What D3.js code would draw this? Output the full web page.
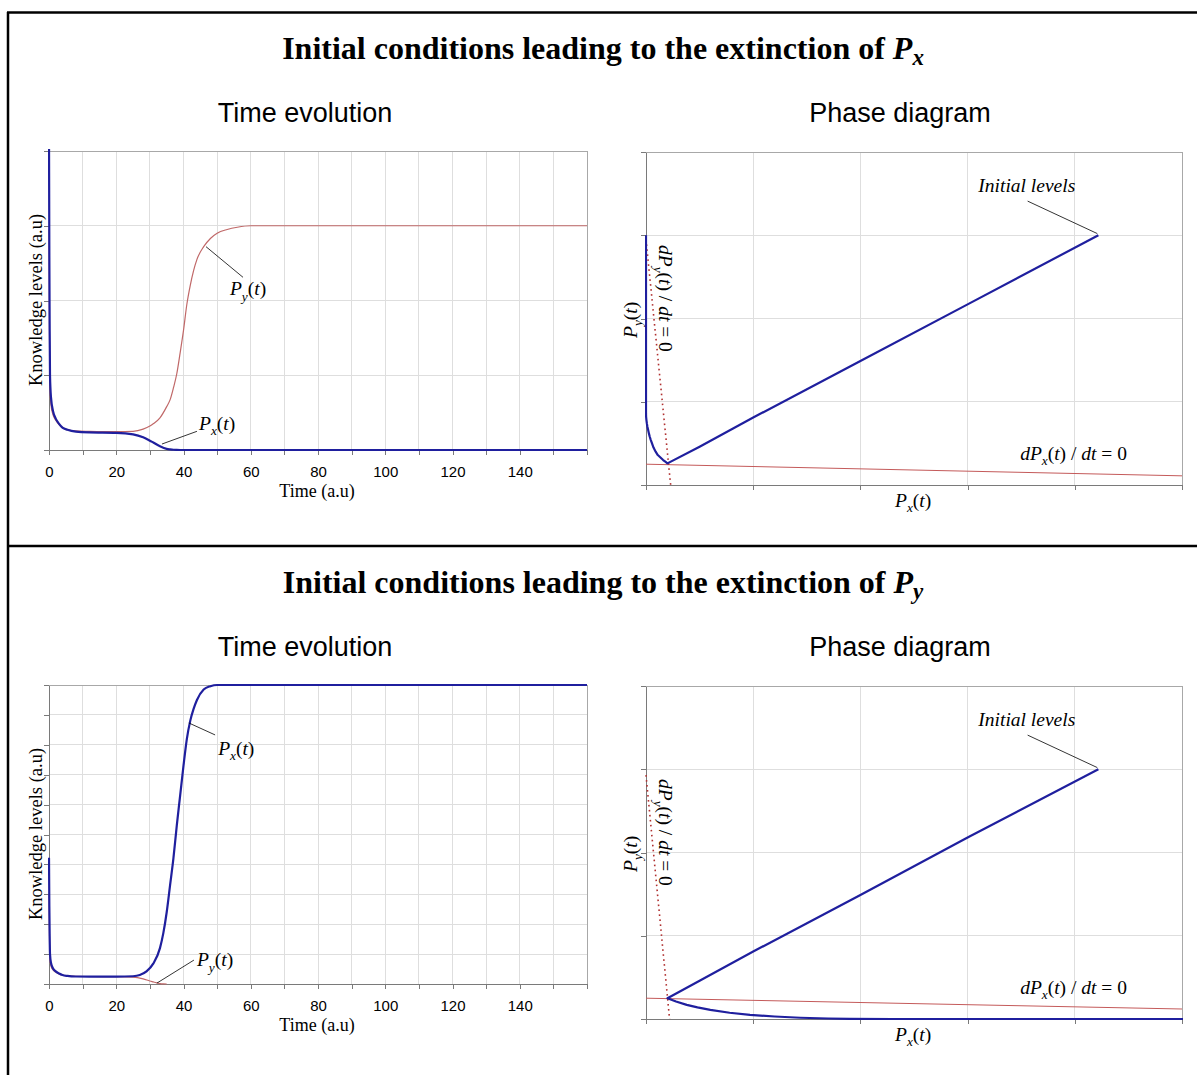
<!DOCTYPE html>
<html>
<head>
<meta charset="utf-8">
<script src="https://cdn.jsdelivr.net/npm/d3@7"></script>
<style>
  body { margin: 0; background: #fff; }
  svg text { font-family: "Liberation Serif", "Times New Roman", serif; white-space: pre; }
  .axis .tick text { font-family: "Liberation Sans", Arial, sans-serif; font-size: 15px; fill: #000; }
  .axis path, .axis line { stroke: #7a7a7a; shape-rendering: crispEdges; }
  .grid line { stroke: #dedede; shape-rendering: crispEdges; }
  .frame { stroke: #a8a8a8; shape-rendering: crispEdges; }
</style>
</head>
<body>
<script>
// ---------- data ----------
var timeTicks = d3.range(0, 161, 10);

// upper panel : extinction of Px
var evoT1  = [0,0.1,0.2,0.3,0.6,1.2,2,3,4,5.5,8,12,20,25,28,30,31,33,35,36,37,38,39,40,41,42,43,44,46,48,50,53,56,60,160];
var evoPx1 = [4.22,2.6,1.6,1.0,0.7,0.52,0.42,0.35,0.3,0.27,0.245,0.235,0.23,0.21,0.17,0.125,0.1,0.05,0.015,0.008,0.003,0.001,0,0,0,0,0,0,0,0,0,0,0,0,0];
var evoPy1 = [2.95,1.9,1.2,0.8,0.6,0.47,0.4,0.34,0.3,0.27,0.255,0.25,0.245,0.25,0.28,0.32,0.35,0.43,0.58,0.67,0.83,1.02,1.3,1.6,1.95,2.2,2.4,2.55,2.72,2.83,2.9,2.95,2.98,3.0,3.0];

// lower panel : extinction of Py
var evoT2  = [0,0.1,0.2,0.3,0.6,1.2,2,3,4,5.5,8,12,20,25,27,29,31,33,34,35,36,37,38,39,40,41,42,43,44,46,48,50,160];
var evoPx2 = [4.22,2.6,1.6,1.0,0.7,0.52,0.42,0.35,0.3,0.27,0.25,0.245,0.245,0.26,0.3,0.42,0.68,1.2,1.7,2.4,3.3,4.2,5.3,6.3,7.3,8.2,8.8,9.2,9.5,9.85,9.96,10,10];
var pyT2   = [0,0.1,0.2,0.3,0.6,1.2,2,3,4,5.5,8,12,20,25,28,30,31,32,33,34,35];
var evoPy2 = [3.0,1.9,1.2,0.8,0.6,0.47,0.4,0.34,0.3,0.27,0.255,0.25,0.245,0.23,0.17,0.1,0.07,0.04,0.015,0.003,0];

// phase trajectories (Px, Py)
var phasePx1 = [4.22,3.0,2.0,1.0,0.5,0.2,0.18,0.16,0.135,0.11,0.09,0.07,0.056,0.045,0.035,0.027,0.02,0.013,0.008,0.004,0.001,0,0];
var phasePy1 = [3.0,2.17,1.49,0.81,0.46,0.26,0.28,0.3,0.33,0.36,0.4,0.45,0.5,0.54,0.58,0.62,0.66,0.7,0.74,0.78,0.82,0.86,3.0];
var phasePx2 = [4.22,3.0,2.0,1.0,0.5,0.2,0.28,0.38,0.48,0.6,0.78,0.97,1.2,1.44,1.7,1.9,2.3,5.5];
var phasePy2 = [3.0,2.18,1.49,0.81,0.46,0.25,0.21,0.17,0.14,0.11,0.075,0.05,0.03,0.015,0.006,0.002,0,0];

// nullclines
var nullPxX = [0, 5];
var nullPxY1 = [0.25, 0.11];
var nullPxY2 = [0.25, 0.12];
var nullPyX1 = [0, 0.23], nullPyY1 = [2.95, 0];
var nullPyX2 = [0, 0.22], nullPyY2 = [2.93, 0];

var zip = function(a, b){ return a.map(function(d, i){ return [d, b[i]]; }); };

var panels = [
  { off: 0, sub: "x", yMax: 4,
    series: [
      { pts: zip(evoT1, evoPy1), color: "#c06868", w: 1.2 },
      { pts: zip(evoT1, evoPx1), color: "#1f1f9e", w: 2.2 }
    ],
    notes: [
      { name: "y", lead: [[46.7,2.72],[57.7,2.31]], at: [53.8,2.07] },
      { name: "x", lead: [[33.6,0.08],[44.0,0.25]], at: [44.6,0.27] }
    ],
    traj: zip(phasePx1, phasePy1),
    nPx: zip(nullPxX, nullPxY1), nPy: zip(nullPyX1, nullPyY1) },
  { off: 534, sub: "y", yMax: 10,
    series: [
      { pts: zip(pyT2, evoPy2), color: "#c06868", w: 1.2 },
      { pts: zip(evoT2, evoPx2), color: "#1f1f9e", w: 2.2 }
    ],
    notes: [
      { name: "x", lead: [[41.6,8.73],[49.4,8.33]], at: [50.3,7.66] },
      { name: "y", lead: [[32.1,0.03],[43.1,0.8]], at: [44.0,0.6] }
    ],
    traj: zip(phasePx2, phasePy2),
    nPx: zip(nullPxX, nullPxY2), nPy: zip(nullPyX2, nullPyY2) }
];

// ---------- drawing ----------
var W = 1197, H = 1075;
var LBL = 19.5;
var svg = d3.select("body").append("svg").attr("width", W).attr("height", H);
svg.append("rect").attr("width", W).attr("height", H).attr("fill", "#fff");

// outer frame
svg.append("line").attr("x1", 7).attr("x2", W).attr("y1", 12.5).attr("y2", 12.5).attr("stroke", "#000").attr("stroke-width", 2.5);
svg.append("line").attr("x1", 8).attr("x2", 8).attr("y1", 12).attr("y2", H).attr("stroke", "#000").attr("stroke-width", 2.5);
svg.append("line").attr("x1", 7).attr("x2", W).attr("y1", 546).attr("y2", 546).attr("stroke", "#000").attr("stroke-width", 2.5);

// italic math label: parts [text, kind] kind i=italic r=roman s=subscript
function mathText(sel, parts, size) {
  var down = false;
  parts.forEach(function(p){
    var ts = sel.append("tspan").text(p[0]);
    if (p[1] === "s") {
      ts.attr("font-style", "italic").attr("font-size", size * 0.68).attr("dy", size * 0.28);
      down = true;
    } else {
      if (down) { ts.attr("dy", -size * 0.28); down = false; }
      ts.attr("font-style", p[1] === "i" ? "italic" : "normal").attr("font-size", size);
    }
  });
  return sel;
}
function pOf(s){ return [["P","i"],[s,"s"],["(","r"],["t","i"],[")","r"]]; }

var clipN = 0;
function clip(g, x0, y0, w, h) {
  var id = "clip" + (clipN++);
  g.append("clipPath").attr("id", id).append("rect").attr("x", x0).attr("y", y0).attr("width", w).attr("height", h);
  return "url(#" + id + ")";
}

function drawTime(g, p) {
  var x = d3.scaleLinear().domain([0, 160]).range([49, 587]);
  var y = d3.scaleLinear().domain([0, p.yMax]).range([450, 151]);

  var grid = g.append("g").attr("class", "grid");
  grid.selectAll(".v").data(timeTicks.slice(1)).enter().append("line")
    .attr("x1", x).attr("x2", x).attr("y1", y(0)).attr("y2", y(p.yMax));
  grid.selectAll(".h").data(d3.range(1, p.yMax)).enter().append("line")
    .attr("x1", x(0)).attr("x2", x(160)).attr("y1", y).attr("y2", y);

  g.append("path").attr("class", "frame").attr("fill", "none")
    .attr("d", "M" + x(0) + "," + y(p.yMax) + "H" + x(160) + "V" + y(0));

  g.append("g").attr("class", "axis").attr("transform", "translate(0," + y(0) + ")")
    .call(d3.axisBottom(x).tickValues(timeTicks).tickSize(5).tickSizeOuter(0).tickPadding(11)
      .tickFormat(function(d){ return (d % 20 === 0 && d < 160) ? d : ""; }));
  g.append("g").attr("class", "axis").attr("transform", "translate(" + x(0) + ",0)")
    .call(d3.axisLeft(y).tickValues(d3.range(0, p.yMax + 1)).tickSize(5).tickSizeOuter(0).tickFormat(""));

  var line = d3.line().x(function(d){ return x(d[0]); }).y(function(d){ return y(d[1]); }).curve(d3.curveMonotoneX);
  var lines = g.append("g").attr("clip-path", clip(g, 48, 149, 541, 303));
  p.series.forEach(function(s){
    lines.append("path").attr("d", line(s.pts)).attr("fill", "none")
      .attr("stroke", s.color).attr("stroke-width", s.w).attr("stroke-linejoin", "round");
  });

  p.notes.forEach(function(n){
    g.append("line").attr("x1", x(n.lead[0][0])).attr("y1", y(n.lead[0][1]))
      .attr("x2", x(n.lead[1][0])).attr("y2", y(n.lead[1][1])).attr("stroke", "#000").attr("stroke-width", 0.8);
    mathText(g.append("text").attr("x", x(n.at[0])).attr("y", y(n.at[1])), pOf(n.name), LBL);
  });

  g.append("text").attr("x", 317).attr("y", 497).attr("text-anchor", "middle").attr("font-size", 18).text("Time (a.u)");
  g.append("text").attr("transform", "translate(42,300) rotate(-90)").attr("text-anchor", "middle")
    .attr("font-size", 18.5).text("Knowledge levels (a.u)");
}

function drawPhase(g, p) {
  var x = d3.scaleLinear().domain([0, 5]).range([646, 1182]);
  var y = d3.scaleLinear().domain([0, 4]).range([485, 152]);

  var grid = g.append("g").attr("class", "grid");
  grid.selectAll(".v").data(d3.range(1, 5)).enter().append("line")
    .attr("x1", x).attr("x2", x).attr("y1", y(0)).attr("y2", y(4));
  grid.selectAll(".h").data(d3.range(1, 4)).enter().append("line")
    .attr("x1", x(0)).attr("x2", x(5)).attr("y1", y).attr("y2", y);
  g.append("path").attr("class", "frame").attr("fill", "none")
    .attr("d", "M" + x(0) + "," + y(4) + "H" + x(5) + "V" + y(0));

  g.append("g").attr("class", "axis").attr("transform", "translate(0," + y(0) + ")")
    .call(d3.axisBottom(x).tickValues(d3.range(0, 6)).tickSize(5).tickSizeOuter(0).tickFormat(""));
  g.append("g").attr("class", "axis").attr("transform", "translate(" + x(0) + ",0)")
    .call(d3.axisLeft(y).tickValues(d3.range(0, 5)).tickSize(5).tickSizeOuter(0).tickFormat(""));

  var line = d3.line().x(function(d){ return x(d[0]); }).y(function(d){ return y(d[1]); });
  var marks = g.append("g").attr("clip-path", clip(g, 645, 150, 538, 336));
  marks.append("path").attr("d", line(p.nPx)).attr("fill", "none").attr("stroke", "#c45a5a").attr("stroke-width", 1);
  marks.append("path").attr("d", line(p.nPy)).attr("fill", "none").attr("stroke", "#b03030")
    .attr("stroke-width", 1.6).attr("stroke-dasharray", "1.6,3.4");
  marks.append("path").attr("d", line(p.traj)).attr("fill", "none").attr("stroke", "#1f1f9e")
    .attr("stroke-width", 2.2).attr("stroke-linejoin", "round");

  // labels
  g.append("text").attr("x", x(3.1)).attr("y", y(3.52)).attr("font-size", LBL).attr("font-style", "italic").text("Initial levels");
  g.append("line").attr("x1", x(3.56)).attr("y1", y(3.41)).attr("x2", x(4.21)).attr("y2", y(3.02))
    .attr("stroke", "#000").attr("stroke-width", 0.8);
  mathText(g.append("text").attr("x", x(3.49)).attr("y", y(0.3)),
    [["d","i"],["P","i"],["x","s"],["(","r"],["t","i"],[")","r"],[" / ","r"],["dt","i"],[" = 0","r"]], LBL);
  mathText(g.append("text").attr("transform", "translate(659,245) rotate(90)"),
    [["d","i"],["P","i"],["y","s"],["(","r"],["t","i"],[")","r"],[" / ","r"],["dt","i"],[" = 0","r"]], LBL);
  mathText(g.append("text").attr("x", 895).attr("y", 507), pOf("x"), LBL);
  mathText(g.append("text").attr("transform", "translate(637,338) rotate(-90)"), pOf("y"), LBL);
}

panels.forEach(function(p){
  var g = svg.append("g").attr("transform", "translate(0," + p.off + ")");
  var title = g.append("text").attr("x", 603).attr("y", 59).attr("text-anchor", "middle")
    .attr("font-size", 32).attr("font-weight", "bold");
  title.append("tspan").text("Initial conditions leading to the extinction of ");
  title.append("tspan").attr("font-style", "italic").text("P");
  title.append("tspan").attr("font-style", "italic").attr("font-size", 23).attr("dy", 6).text(p.sub);

  g.append("text").attr("x", 305).attr("y", 122).attr("text-anchor", "middle")
    .style("font-family", "'Liberation Sans', Arial, sans-serif").attr("font-size", 27).text("Time evolution");
  g.append("text").attr("x", 900).attr("y", 122).attr("text-anchor", "middle")
    .style("font-family", "'Liberation Sans', Arial, sans-serif").attr("font-size", 27).text("Phase diagram");

  drawTime(g, p);
  drawPhase(g, p);
});
</script>
</body>
</html>
